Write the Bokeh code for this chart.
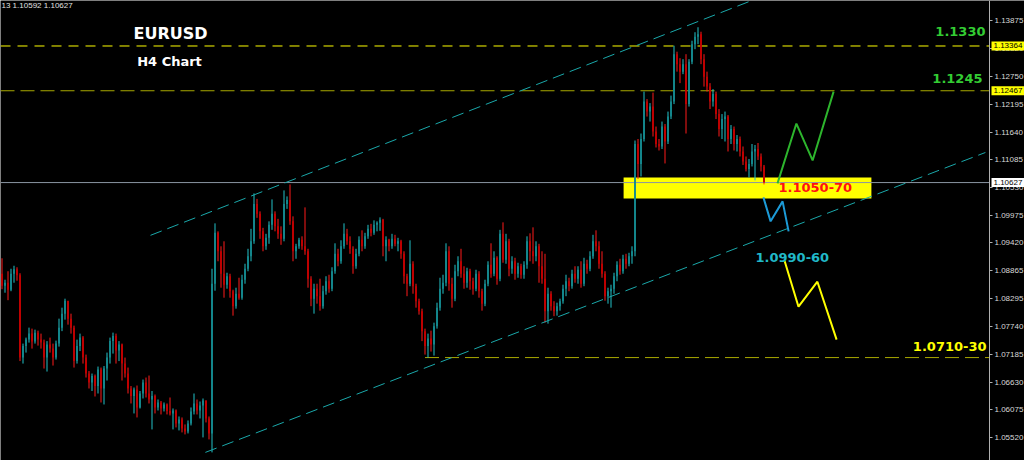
import numpy as np
from bokeh.plotting import figure
from bokeh.models import Range1d, FixedTicker, NumeralTickFormatter, Label, LinearAxis
from bokeh.embed import file_html
from bokeh.resources import INLINE

# ---- EURUSD H4 candles (bar index 0..254) ----
first_open = 1.0880
closes = [
    1.0856, 1.0862, 1.0848, 1.0880, 1.0889, 1.0877, 1.0712, 1.0735, 1.0748, 1.0760,
    1.0744, 1.0762, 1.0748, 1.0742, 1.0712, 1.0738, 1.0730, 1.0712, 1.0740, 1.0772,
    1.0800, 1.0826, 1.0790, 1.0772, 1.0705, 1.0735, 1.0752, 1.0712, 1.0680, 1.0662,
    1.0675, 1.0655, 1.0688, 1.0650, 1.0690, 1.0712, 1.0745, 1.0755, 1.0726, 1.0738,
    1.0700, 1.0680, 1.0650, 1.0635, 1.0648, 1.0612, 1.0640, 1.0662, 1.0640, 1.0628,
    1.0635, 1.0612, 1.0622, 1.0610, 1.0618, 1.0605, 1.0600, 1.0606, 1.0580, 1.0588,
    1.0570, 1.0564, 1.0580, 1.0604, 1.0620, 1.0606, 1.0616, 1.0626, 1.0590, 1.0560,
    1.0860, 1.0962, 1.0925, 1.0880, 1.0858, 1.0875, 1.0845, 1.0815, 1.0840, 1.0832,
    1.0868, 1.0890, 1.0915, 1.0945, 1.1020, 1.1000, 1.0965, 1.0935, 1.0952, 1.0978,
    1.1000, 1.0975, 1.0960, 1.0950, 1.1020, 1.1028, 1.0985, 1.0925, 1.0935, 1.0948,
    1.0935, 1.0925, 1.0870, 1.0830, 1.0850, 1.0835, 1.0815, 1.0845, 1.0865, 1.0850,
    1.0885, 1.0920, 1.0905, 1.0935, 1.0960, 1.0945, 1.0930, 1.0895, 1.0920, 1.0948,
    1.0935, 1.0955, 1.0970, 1.0962, 1.0978, 1.0982, 1.0988, 1.0935, 1.0948, 1.0935,
    1.0950, 1.0940, 1.0945, 1.0920, 1.0875, 1.0860, 1.0900, 1.0855, 1.0825, 1.0805,
    1.0765, 1.0735, 1.0750, 1.0738, 1.0775, 1.0812, 1.0850, 1.0862, 1.0925, 1.0860,
    1.0830, 1.0885, 1.0905, 1.0880, 1.0862, 1.0885, 1.0865, 1.0850, 1.0880, 1.0845,
    1.0820, 1.0860, 1.0898, 1.0880, 1.0912, 1.0870, 1.0960, 1.0908, 1.0945, 1.0890,
    1.0905, 1.0880, 1.0895, 1.0878, 1.0898, 1.0945, 1.0925, 1.0915, 1.0935, 1.0895,
    1.0870, 1.0805, 1.0840, 1.0815, 1.0805, 1.0815, 1.0825, 1.0850, 1.0865, 1.0855,
    1.0880, 1.0870, 1.0888, 1.0860, 1.0900, 1.0890, 1.0915, 1.0945, 1.0935, 1.0900,
    1.0880, 1.0835, 1.0845, 1.0850, 1.0875, 1.0898, 1.0885, 1.0910, 1.0900, 1.0915,
    1.0925, 1.1140, 1.1100, 1.1150, 1.1225, 1.1205, 1.1215, 1.1165, 1.1140, 1.1135,
    1.1175, 1.1145, 1.1195, 1.1225, 1.1320, 1.1300, 1.1285, 1.1300, 1.1220, 1.1305,
    1.1340, 1.1355, 1.1360, 1.1310, 1.1275, 1.1255, 1.1225, 1.1240, 1.1200, 1.1170,
    1.1190, 1.1195, 1.1150, 1.1170, 1.1140, 1.1150, 1.1125, 1.1105, 1.1090, 1.1100,
    1.1125, 1.1130, 1.1115, 1.1095, 1.1063,
]
highs = [
    1.0911, 1.0868, 1.0885, 1.0890, 1.0896, 1.0893, 1.0881, 1.0740, 1.0752, 1.0772,
    1.0770, 1.0768, 1.0766, 1.0760, 1.0748, 1.0745, 1.0752, 1.0740, 1.0746, 1.0790,
    1.0812, 1.0830, 1.0822, 1.0800, 1.0776, 1.0748, 1.0760, 1.0755, 1.0718, 1.0685,
    1.0680, 1.0678, 1.0694, 1.0692, 1.0695, 1.0722, 1.0752, 1.0762, 1.0760, 1.0745,
    1.0740, 1.0712, 1.0692, 1.0655, 1.0652, 1.0656, 1.0645, 1.0668, 1.0672, 1.0676,
    1.0645, 1.0638, 1.0628, 1.0625, 1.0622, 1.0620, 1.0632, 1.0610, 1.0608, 1.0594,
    1.0592, 1.0578, 1.0586, 1.0612, 1.0640, 1.0628, 1.0624, 1.0630, 1.0626, 1.0594,
    1.0890, 1.0981, 1.0965, 1.0935, 1.0945, 1.0882, 1.0880, 1.0848, 1.0852, 1.0872,
    1.0878, 1.0900, 1.0930, 1.0970, 1.1041, 1.1030, 1.1005, 1.0972, 1.0960, 1.0985,
    1.1029, 1.1005, 1.0990, 1.0975, 1.1047, 1.1035, 1.1059, 1.0995, 1.0940, 1.0952,
    1.0955, 1.1013, 1.0930, 1.0875, 1.0860, 1.0860, 1.0870, 1.0856, 1.0875, 1.0878,
    1.0893, 1.0941, 1.0930, 1.0947, 1.0981, 1.0970, 1.0955, 1.0935, 1.0930, 1.0955,
    1.0967, 1.0962, 1.0978, 1.0980, 1.0987, 1.0985, 1.0993, 1.0990, 1.0955, 1.0950,
    1.0960, 1.0958, 1.0952, 1.0948, 1.0925, 1.0880, 1.0947, 1.0905, 1.0860, 1.0830,
    1.0810, 1.0770, 1.0760, 1.0766, 1.0782, 1.0822, 1.0872, 1.0878, 1.0941, 1.0935,
    1.0872, 1.0898, 1.0915, 1.0930, 1.0895, 1.0892, 1.0890, 1.0872, 1.0888, 1.0885,
    1.0850, 1.0868, 1.0905, 1.0941, 1.0925, 1.0915, 1.0968, 1.0983, 1.0960, 1.0950,
    1.0915, 1.0912, 1.0902, 1.0900, 1.0905, 1.0955, 1.0961, 1.0973, 1.0945, 1.0940,
    1.0925, 1.0920, 1.0852, 1.0845, 1.0825, 1.0822, 1.0830, 1.0858, 1.0878, 1.0872,
    1.0888, 1.0895, 1.0895, 1.0905, 1.0912, 1.0908, 1.0925, 1.0958, 1.0967, 1.0945,
    1.0925, 1.0885, 1.0852, 1.0858, 1.0882, 1.0905, 1.0910, 1.0918, 1.0920, 1.0922,
    1.0935, 1.1147, 1.1150, 1.1161, 1.1245, 1.1230, 1.1222, 1.1243, 1.1175, 1.1150,
    1.1185, 1.1180, 1.1205, 1.1237, 1.1337, 1.1325, 1.1312, 1.1310, 1.1320, 1.1310,
    1.1347, 1.1364, 1.1374, 1.1365, 1.1320, 1.1285, 1.1262, 1.1250, 1.1245, 1.1210,
    1.1200, 1.1205, 1.1198, 1.1178, 1.1175, 1.1158, 1.1155, 1.1135, 1.1115, 1.1110,
    1.1140, 1.1138, 1.1142, 1.1121, 1.1098,
]
lows = [
    1.0849, 1.0842, 1.0827, 1.0845, 1.0862, 1.0866, 1.0705, 1.0700, 1.0722, 1.0742,
    1.0730, 1.0740, 1.0736, 1.0730, 1.0690, 1.0684, 1.0722, 1.0696, 1.0708, 1.0734,
    1.0765, 1.0788, 1.0778, 1.0760, 1.0692, 1.0700, 1.0725, 1.0700, 1.0672, 1.0650,
    1.0645, 1.0634, 1.0640, 1.0622, 1.0618, 1.0666, 1.0700, 1.0720, 1.0700, 1.0705,
    1.0666, 1.0672, 1.0640, 1.0620, 1.0600, 1.0592, 1.0610, 1.0630, 1.0632, 1.0620,
    1.0568, 1.0600, 1.0606, 1.0598, 1.0604, 1.0598, 1.0596, 1.0568, 1.0572, 1.0566,
    1.0562, 1.0558, 1.0560, 1.0576, 1.0598, 1.0598, 1.0590, 1.0552, 1.0582, 1.0548,
    1.0522, 1.0846, 1.0905, 1.0852, 1.0832, 1.0850, 1.0832, 1.0796, 1.0810, 1.0828,
    1.0828, 1.0860, 1.0885, 1.0905, 1.0940, 1.0992, 1.0950, 1.0925, 1.0928, 1.0940,
    1.0968, 1.0965, 1.0950, 1.0938, 1.0945, 1.1010, 1.0978, 1.0905, 1.0910, 1.0930,
    1.0928, 1.0918, 1.0852, 1.0815, 1.0800, 1.0820, 1.0806, 1.0810, 1.0838, 1.0842,
    1.0845, 1.0880, 1.0895, 1.0900, 1.0930, 1.0938, 1.0920, 1.0880, 1.0890, 1.0915,
    1.0925, 1.0930, 1.0950, 1.0955, 1.0958, 1.0965, 1.0966, 1.0915, 1.0905, 1.0925,
    1.0930, 1.0935, 1.0925, 1.0910, 1.0860, 1.0835, 1.0855, 1.0840, 1.0812, 1.0798,
    1.0745, 1.0718, 1.0712, 1.0724, 1.0716, 1.0770, 1.0806, 1.0840, 1.0855, 1.0846,
    1.0812, 1.0825, 1.0875, 1.0872, 1.0850, 1.0852, 1.0848, 1.0838, 1.0845, 1.0832,
    1.0806, 1.0815, 1.0855, 1.0872, 1.0875, 1.0858, 1.0865, 1.0902, 1.0900, 1.0875,
    1.0880, 1.0868, 1.0872, 1.0870, 1.0870, 1.0890, 1.0905, 1.0900, 1.0905, 1.0862,
    1.0860, 1.0782, 1.0780, 1.0806, 1.0795, 1.0796, 1.0806, 1.0820, 1.0835, 1.0845,
    1.0850, 1.0862, 1.0860, 1.0852, 1.0855, 1.0880, 1.0885, 1.0910, 1.0925, 1.0890,
    1.0872, 1.0826, 1.0820, 1.0812, 1.0840, 1.0865, 1.0878, 1.0880, 1.0890, 1.0895,
    1.0900, 1.0915, 1.1070, 1.1075, 1.1145, 1.1195, 1.1185, 1.1155, 1.1133, 1.1127,
    1.1130, 1.1101, 1.1140, 1.1190, 1.1220, 1.1285, 1.1262, 1.1280, 1.1161, 1.1215,
    1.1300, 1.1330, 1.1340, 1.1300, 1.1255, 1.1245, 1.1210, 1.1215, 1.1190, 1.1155,
    1.1150, 1.1145, 1.1125, 1.1140, 1.1127, 1.1125, 1.1115, 1.1098, 1.1085, 1.1073,
    1.1095, 1.1067, 1.1108, 1.1085, 1.1059,
]

# price scale labels shown on the right
axis_ticks = [1.13875, 1.13320, 1.12750, 1.12195, 1.11640, 1.11085, 1.10530, 1.09975,
              1.09420, 1.08865, 1.08295, 1.07740, 1.07185, 1.06630, 1.06075, 1.05520]

# horizontal levels
level_top = 1.13364
level_mid = 1.12467
last_price = 1.10627
swing_low = 1.0712
swing_low_bar = 141

# buy/sell zone
zone_left, zone_right = 207.2, 289.8
zone_bottom, zone_top = 1.1031, 1.1073

# channel lines (bar, price)
upper_x, upper_y = [49.5, 259.5], [1.0957, 1.1450]
lower_x, lower_y = [67.8, 327.8], [1.0522, 1.1123]

# projected paths
bull_x, bull_y = [258.5, 264.8, 270.2, 277.2], [1.1061, 1.1181, 1.1107, 1.1245]
dip_x, dip_y = [253.8, 256.2, 260.2, 262.2], [1.1033, 1.0985, 1.1025, 1.0965]
bear_x, bear_y = [260.8, 265.5, 271.8, 278.2], [1.0907, 1.0814, 1.0864, 1.0748]

W, H = 1024, 460
SCALE_PX = 989          # where the price scale sits


def px_x(px):
    return -0.5 + px / 3.0


X0, X1 = px_x(0), px_x(W)
XS = px_x(SCALE_PX)
Y0, Y1 = 1.050574, 1.142758


def px_y(py):
    return Y1 - py * (Y1 - Y0) / H


closes_a = np.array(closes)
opens_a = np.concatenate([[first_open], closes_a[:-1]])
idx = np.arange(len(closes_a))
up = closes_a >= opens_a
wick_col = np.where(up, "#22c2c8", "#ff1a1a")
body_col = np.where(up, "#14898e", "#c40000")

p = figure(width=W, height=H, x_range=Range1d(X0, X1), y_range=Range1d(Y0, Y1),
           output_backend="svg", toolbar_location=None,
           x_axis_location=None, y_axis_location=None,
           min_border=0, background_fill_color="black", border_fill_color="black",
           outline_line_color=None)
p.grid.visible = False

# price scale drawn at a fixed position inside the frame
ax = LinearAxis(fixed_location=XS)
ax.ticker = FixedTicker(ticks=axis_ticks)
ax.formatter = NumeralTickFormatter(format="0.00000")
ax.major_label_text_font = "Liberation Sans"
ax.major_label_text_font_size = "8px"
ax.major_label_text_color = "#d8d8d8"
ax.axis_line_color = "#b0b0b0"
ax.major_tick_line_color = "#b0b0b0"
ax.major_tick_out = 3
ax.major_tick_in = 0
ax.minor_tick_line_color = None
ax.major_label_standoff = 2
p.add_layout(ax, "right")

# zone box
p.quad(left=[zone_left], right=[zone_right], bottom=[zone_bottom], top=[zone_top],
       fill_color="#ffff00", line_color=None)

# horizontal levels
p.segment(x0=[X0], x1=[XS], y0=[level_top], y1=[level_top],
          line_color="#ffff00", line_width=1, line_dash="10 7")
p.segment(x0=[X0], x1=[XS], y0=[level_mid], y1=[level_mid],
          line_color="#a8a800", line_width=1, line_dash="14 6")
p.segment(x0=[swing_low_bar], x1=[XS], y0=[swing_low], y1=[swing_low],
          line_color="#a8a800", line_width=1, line_dash="14 6")
p.segment(x0=[X0], x1=[XS], y0=[last_price], y1=[last_price],
          line_color="#8a96a3", line_width=1)

# candles
p.segment(x0=idx, x1=idx, y0=lows, y1=highs, line_color=wick_col, line_width=1)
p.vbar(x=idx, width=0.62, top=np.maximum(opens_a, closes_a),
       bottom=np.minimum(opens_a, closes_a), fill_color=body_col, line_color=None)

# channel
p.line(upper_x, upper_y, line_color="#1aa8aa", line_width=1, line_dash="12 6")
p.line(lower_x, lower_y, line_color="#1aa8aa", line_width=1, line_dash="12 6")

# projected paths
p.line(bull_x, bull_y, line_color="#2db52d", line_width=2)
p.line(dip_x, dip_y, line_color="#1c9ad6", line_width=2)
p.line(bear_x, bear_y, line_color="#ffff00", line_width=2)


def tag(text, x, y, color, size, align="left", bold=True, font="DejaVu Sans", bg=None):
    kw = dict(x=x, y=y, text=text, text_color=color, text_font=font,
              text_font_size=size, text_font_style="bold" if bold else "normal",
              text_align=align, text_baseline="middle")
    if bg is not None:
        kw["background_fill_color"] = bg
        try:
            lbl = Label(padding=2, **kw)
        except Exception:
            kw["text"] = f" {text} "
            lbl = Label(**kw)
    else:
        lbl = Label(**kw)
    p.add_layout(lbl)


tag("EURUSD", px_x(170), px_y(33), "white", "16px", align="center")
tag("H4 Chart", px_x(169), px_y(61), "white", "13px", align="center")
tag("1.1330", px_x(985), px_y(31), "#33cc33", "13px", align="right")
tag("1.1245", px_x(982), px_y(78), "#33cc33", "13px", align="right")
tag("1.1050-70", px_x(778), px_y(187), "#ff1010", "13px")
tag("1.0990-60", px_x(755), px_y(257), "#20b8c8", "13px")
tag("1.0710-30", px_x(986), px_y(346), "#ffff00", "13px", align="right")
tag("13 1.10592 1.10627", px_x(1), px_y(5), "#e0e0e0", "8px", bold=False,
    font="Liberation Sans")

# price tags on the scale
for value, bg in [(level_top, "#ffff00"), (level_mid, "#ffff00"), (last_price, "white")]:
    tag(f"{value:.5f}", px_x(991), value, "black", "8px", bold=False,
        font="Liberation Sans", bg=bg)

open("out.html", "w").write(file_html(p, INLINE))
